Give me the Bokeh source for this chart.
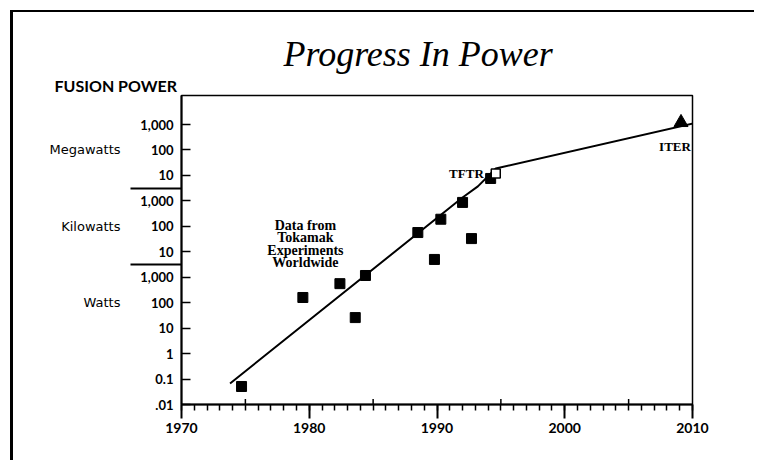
from bokeh.plotting import figure
from bokeh.models import (Range1d, FixedTicker, CustomJSTickFormatter, Label, Title, LogAxis)
from bokeh.embed import file_html
from bokeh.resources import INLINE

# ---- data ----
exp_years = [1974.7, 1979.5, 1982.4, 1983.6, 1984.4, 1988.5, 1989.8, 1990.3, 1992.0, 1992.7, 1994.2]
exp_watts = [0.051, 160, 560, 26, 1170, 5.7e4, 5.0e3, 1.9e5, 8.7e5, 3.3e4, 7.6e6]

tftr_year = [1994.6]
tftr_watts = [1.2e7]

iter_year = [2009.1]
iter_watts = [1.2e9]

trend_years = [1973.8, 1992.0, 1993.2, 1994.6, 2010.2]
trend_watts = [0.067, 1.35e6, 3.7e6, 1.86e7, 1.15e9]

x_major = [1970, 1980, 1990, 2000, 2010]
x_minor = list(range(1970, 2011))
x_half = [1975, 1985, 1995, 2005]

y_exps = [-2, -1, 0, 1, 2, 3, 4, 5, 6, 7, 8, 9]
y_labels = [".01", "0.1", "1", "10", "100", "1,000", "10", "100", "1,000", "10", "100", "1,000"]

unit_names = ["Megawatts", "Kilowatts", "Watts"]
unit_exps = [8, 5, 2]
unit_break_exps = [6.5, 3.5]

note_lines = ["Data from", "Tokamak", "Experiments", "Worldwide"]

# ---- figure ----
p = figure(width=744, height=450, output_backend="svg", toolbar_location=None,
           y_axis_type="log",
           x_range=Range1d(1970, 2010), y_range=Range1d(0.01, 10 ** 10.14),
           min_border_left=168, min_border_right=65, min_border_top=83, min_border_bottom=58)
p.styles = {"margin-left": "10px", "margin-top": "10px",
            "border-left": "3px solid black", "border-top": "2px solid black"}
p.title.visible = False
p.xgrid.visible = False
p.ygrid.visible = False
p.background_fill_color = "white"
p.border_fill_color = "white"
p.outline_line_color = "black"
p.outline_line_width = 1.5

# x axis
xa = p.xaxis[0]
xa.ticker = FixedTicker(ticks=x_major, minor_ticks=x_minor)
xa.axis_line_width = 2
xa.major_tick_in = 0
xa.major_tick_out = 14
xa.major_tick_line_width = 2
xa.minor_tick_in = 0
xa.minor_tick_out = 6
xa.minor_tick_line_width = 1.5
xa.major_label_standoff = 4
xa.major_label_text_font = "Lato"
xa.major_label_text_font_style = "bold"
xa.major_label_text_font_size = "14px"
xa.major_label_text_color = "black"

# y axis (numbers) - minor ticks used as the unit separators
ya = p.yaxis[0]
ya.ticker = FixedTicker(ticks=[10.0 ** e for e in y_exps],
                        minor_ticks=[10.0 ** e for e in unit_break_exps])
ya.formatter = CustomJSTickFormatter(args=dict(exps=y_exps, labels=y_labels), code="""
    const e = Math.round(Math.log10(tick));
    const i = exps.indexOf(e);
    return i >= 0 ? labels[i] : "";
""")
ya.axis_line_width = 2
ya.major_tick_in = 9
ya.major_tick_out = 0
ya.major_tick_line_width = 1.5
ya.minor_tick_in = 0
ya.minor_tick_out = 51
ya.minor_tick_line_width = 2
ya.major_label_standoff = -43
ya.major_label_text_font = "Lato"
ya.major_label_text_font_style = "bold"
ya.major_label_text_font_size = "13px"
ya.major_label_text_color = "black"

# unit names axis
ua = LogAxis(ticker=FixedTicker(ticks=[10.0 ** e for e in unit_exps], minor_ticks=[]),
             formatter=CustomJSTickFormatter(args=dict(exps=unit_exps, labels=unit_names), code="""
    const e = Math.round(Math.log10(tick));
    const i = exps.indexOf(e);
    return i >= 0 ? labels[i] : "";
"""))
ua.axis_line_color = None
ua.major_tick_line_color = None
ua.minor_tick_line_color = None
ua.major_tick_out = 0
ua.major_tick_in = 0
ua.major_label_standoff = 17
ua.major_label_text_font = "DejaVu Sans"
ua.major_label_text_font_size = "13px"
ua.major_label_text_color = "black"
p.add_layout(ua, "left")

# half-decade upward ticks on the x axis
p.segment(x0=x_half, y0=[0.01] * len(x_half), x1=x_half, y1=[0.01 * 10 ** 0.22] * len(x_half),
          line_color="black", line_width=1.5)

# trend line
p.line(trend_years, trend_watts, line_color="black", line_width=2)

# experiments
p.scatter(exp_years, exp_watts, marker="square", size=10, fill_color="black", line_color="black")
p.scatter(tftr_year, tftr_watts, marker="square", size=9, fill_color="white", line_color="black",
          line_width=1.5)
p.scatter(iter_year, iter_watts, marker="triangle", size=14, fill_color="black", line_color="black")

serif = "Liberation Serif"

p.add_layout(Label(x=tftr_year[0], y=tftr_watts[0], text="TFTR", x_offset=-12,
                   text_align="right", text_baseline="middle", text_font=serif,
                   text_font_style="bold", text_font_size="13px", text_color="black"))
p.add_layout(Label(x=iter_year[0], y=iter_watts[0], text="ITER", y_offset=-24, x_offset=-6,
                   text_align="center", text_baseline="middle", text_font=serif,
                   text_font_style="bold", text_font_size="13px", text_color="black"))

for i, t in enumerate(note_lines):
    p.add_layout(Label(x=1979.7, y=10 ** 5.03, text=t, y_offset=-12.4 * i,
                       text_align="center", text_baseline="middle", text_font=serif,
                       text_font_style="bold", text_font_size="14px", text_color="black"))

# headings above the frame
p.add_layout(Title(text="FUSION POWER", align="left", offset=-127, standoff=2,
                   text_font="Lato", text_font_style="bold", text_font_size="16px",
                   text_color="black"), "above")
p.add_layout(Title(text="Progress In Power", align="left", offset=102, standoff=-3,
                   text_font=serif, text_font_style="italic", text_font_size="36px",
                   text_color="black"), "above")

open("out.html", "w").write(file_html(p, INLINE))
